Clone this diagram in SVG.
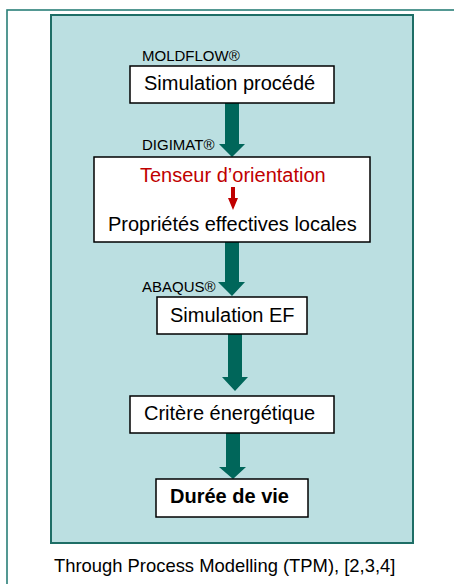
<svg xmlns="http://www.w3.org/2000/svg" width="454" height="584" viewBox="0 0 454 584">
<style>
text{font-family:"Liberation Sans",Arial,sans-serif;fill:#000}
.lbl{font-size:15px}
.main{font-size:20px}
.box{fill:#fff;stroke:#000;stroke-width:1.5}
.arr{fill:#00665a}
</style>
<rect width="454" height="584" fill="#fff"/>
<rect id="frame" x="7" y="10" width="470" height="600" fill="none" stroke="#2a7f78" stroke-width="1.6"/>
<rect id="panel" x="51" y="15" width="362" height="528" fill="#bbdfe1" stroke="#1e6e66" stroke-width="2"/>
<g id="connectors">
<polygon class="arr" points="225,103 239,103 239,144 245,144 232,157 219,144 225,144"/>
<polygon class="arr" points="225,242 239,242 239,282 245,282 232,296 218,282 225,282"/>
<polygon class="arr" points="228,334 242,334 242,377 248,377 235,391 222,377 228,377"/>
<polygon class="arr" points="226,433 240,433 240,467 246,467 233,479 219,467 226,467"/>
</g>
<g id="n1">
<text class="lbl" x="142" y="61">MOLDFLOW®</text>
<rect class="box" x="130" y="66" width="204" height="37"/>
<text class="main" x="144" y="90">Simulation procédé</text>
</g>
<g id="n2">
<text class="lbl" x="142" y="150">DIGIMAT®</text>
<rect class="box" x="94" y="157" width="276" height="85"/>
<text class="main" x="140" y="182" style="fill:#c00000">Tenseur d’orientation</text>
<polygon points="231,187 235,187 235,198 238,198 233,210 228,198 231,198" fill="#c00000"/>
<text class="main" x="108" y="231">Propriétés effectives locales</text>
</g>
<g id="n3">
<text class="lbl" x="142" y="292">ABAQUS®</text>
<rect class="box" x="157" y="297" width="150" height="37"/>
<text class="main" x="170" y="322">Simulation EF</text>
</g>
<g id="n4">
<rect class="box" x="130" y="396" width="204" height="37"/>
<text class="main" x="144" y="420">Critère énergétique</text>
</g>
<g id="n5">
<rect class="box" x="156" y="479" width="152" height="38"/>
<text class="main" x="170" y="503" font-weight="bold">Durée de vie</text>
</g>
<text x="54" y="572" font-size="18.4">Through Process Modelling (TPM), [2,3,4]</text>
</svg>
